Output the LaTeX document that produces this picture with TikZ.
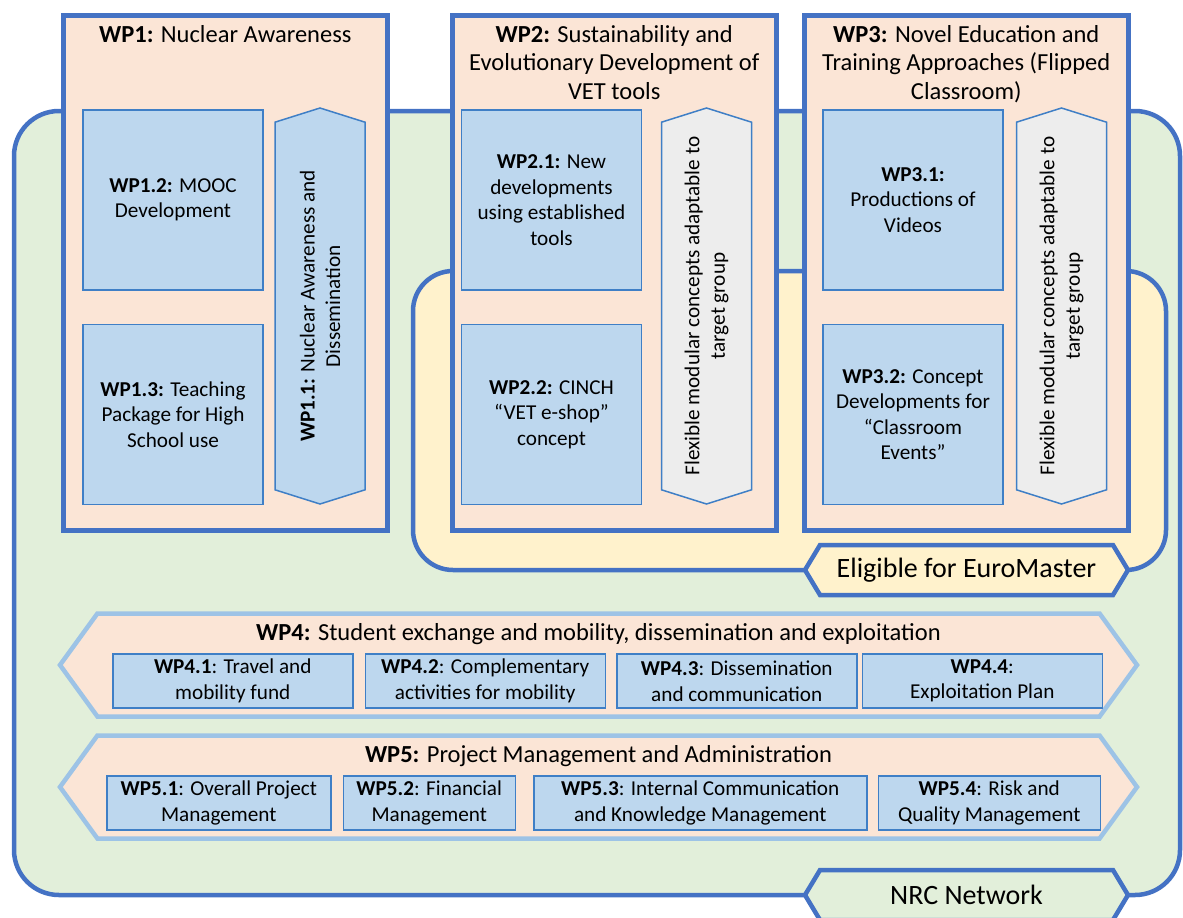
\documentclass[tikz,border=0pt]{standalone}
\usepackage{fontspec}
\setmainfont{Carlito}
\usetikzlibrary{positioning, shapes.symbols}
\definecolor{wpblue}{HTML}{4472C4}
\definecolor{wpgreen}{HTML}{E2EFDA}
\definecolor{wpyellow}{HTML}{FFF2CC}
\definecolor{wppeach}{HTML}{FBE5D6}
\definecolor{subfill}{HTML}{BDD7EE}
\definecolor{subline}{HTML}{3F7FC6}
\definecolor{bandline}{HTML}{9DC3E6}
\definecolor{greyfill}{HTML}{EDEDED}
\newcommand{\headfont}{\fontsize{24.5}{28.5}\selectfont}
\newcommand{\subfont}{\fontsize{21.2}{25.5}\selectfont}

\begin{document}
\begin{tikzpicture}[x=1pt, y=-1pt, node distance=13pt and 13pt,
  region/.style={draw=wpblue, line width=4.5pt, rounded corners=#1},
  wpbox/.style={draw=wpblue, fill=wppeach, line width=4.5pt, minimum width=324pt, minimum height=515pt, anchor=north west},
  wptitle/.style={align=center, inner sep=0pt, font=\headfont},
  subbox/.style={draw=subline, fill=subfill, line width=1.5pt, minimum width=180pt, minimum height=180pt, align=center, font=\subfont},
  column/.style={shape=signal, signal to=east and west, signal pointer angle=145, draw=subline, line width=1.5pt, rotate=90, minimum width=396pt, minimum height=90pt, inner sep=2pt, align=center, font=\subfont},
  band/.style={shape=signal, signal to=east and west, signal pointer angle=108, draw=bandline, fill=wppeach, line width=4.5pt, minimum width=1077pt, minimum height=103pt},
  task/.style={draw=subline, fill=subfill, line width=1.5pt, minimum height=54pt, inner sep=0pt, align=center, font=\subfont},
  tag/.style={shape=signal, signal to=east and west, signal pointer angle=118, draw=wpblue, line width=4.5pt, minimum width=323pt, minimum height=50pt, font=\fontsize{28}{32}\selectfont}]
  \useasboundingbox (0,0) rectangle (1183,918);
  \draw[region=45pt, fill=wpgreen] (14,111) rectangle (1180,895);
  \draw[region=40pt, fill=wpyellow] (413,271) rectangle (1166,570);
  \node[tag, fill=wpyellow] (euro) at (966.5,570) {Eligible for EuroMaster};
  \node[tag, fill=wpgreen] (nrc) at (966.5,895) {NRC Network};

  \foreach \n/\x in {wp1/61, wp2/450, wp3/802}
    \node[wpbox] (\n) at (\x,13) {};
  \node[wptitle, below=12pt of wp1.north] (wp1t) {\textbf{WP1:} Nuclear Awareness};
  \node[wptitle, below=12pt of wp2.north] (wp2t) {\textbf{WP2:} Sustainability and\\Evolutionary Development of\\VET tools};
  \node[wptitle, below=12pt of wp3.north] (wp3t) {\textbf{WP3:} Novel Education and\\Training Approaches (Flipped\\Classroom)};

  \node[subbox] (wp12) at (173,200) {\textbf{WP1.2:} MOOC\\Development};
  \node[subbox, below=33pt of wp12] (wp13) {\textbf{WP1.3:} Teaching\\Package for High\\School use};
  \node[column, fill=subfill] (wp11) at (320,306) {\textbf{WP1.1:} Nuclear Awareness and\\Dissemination};

  \node[subbox] (wp21) at (551.5,200) {\textbf{WP2.1:} New\\developments\\using established\\tools};
  \node[subbox, below=33pt of wp21] (wp22) {\textbf{WP2.2:} CINCH\\``VET e-shop''\\concept};
  \node[column, fill=greyfill] (flex2) at (706.5,306) {Flexible modular concepts adaptable to\\target group};

  \node[subbox] (wp31) at (913,200) {\textbf{WP3.1:}\\Productions of\\Videos};
  \node[subbox, below=33pt of wp31] (wp32) {\textbf{WP3.2:} Concept\\Developments for\\``Classroom\\Events''};
  \node[column, fill=greyfill] (flex3) at (1061.5,306) {Flexible modular concepts adaptable to\\target group};

  \node[band] (wp4) at (598.5,665) {};
  \node[wptitle] (wp4t) at (598.5,634) {\textbf{WP4:} Student exchange and mobility, dissemination and exploitation};
  \node[task, minimum width=240pt, anchor=west] (wp41) at (112,681) {\textbf{WP4.1}: Travel and\\mobility fund};
  \node[task, minimum width=240pt, right=11pt of wp41] (wp42) {\textbf{WP4.2}: Complementary\\activities for mobility};
  \node[task, minimum width=240pt, right=10pt of wp42] (wp43) {\textbf{WP4.3}: Dissemination\\and communication};
  \node[task, minimum width=240pt, right=4pt of wp43] (wp44) {\textbf{WP4.4}:\\Exploitation Plan};

  \node[band] (wp5) at (598.5,787) {};
  \node[wptitle] (wp5t) at (598.5,756) {\textbf{WP5:} Project Management and Administration};
  \node[task, minimum width=224pt, anchor=west] (wp51) at (106,803) {\textbf{WP5.1}: Overall Project\\Management};
  \node[task, minimum width=172pt, right=11pt of wp51] (wp52) {\textbf{WP5.2}: Financial\\Management};
  \node[task, minimum width=333pt, right=17pt of wp52] (wp53) {\textbf{WP5.3}: Internal Communication\\and Knowledge Management};
  \node[task, minimum width=222pt, right=10pt of wp53] (wp54) {\textbf{WP5.4}: Risk and\\Quality Management};
\end{tikzpicture}
\end{document}
